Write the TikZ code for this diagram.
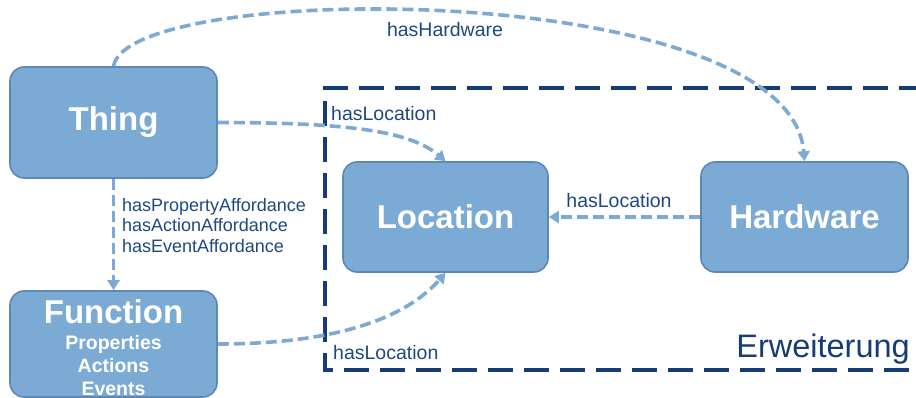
\documentclass[tikz,border=0pt]{standalone}
\usepackage{fontspec}
\setmainfont{Liberation Sans}
\usetikzlibrary{arrows.meta}
\definecolor{boxfill}{RGB}{123,171,212}
\definecolor{boxline}{RGB}{92,137,180}
\definecolor{linkblue}{RGB}{125,170,210}
\definecolor{navy}{RGB}{22,60,120}
\definecolor{labelblue}{RGB}{30,72,128}
\tikzset{
  box/.style={draw=boxline, line width=1.6pt, fill=boxfill, rounded corners=14pt,
    text=white, font=\fontsize{33}{36}\selectfont\bfseries, inner sep=0pt},
  link/.style={draw=linkblue, line width=3.6pt, dash pattern=on 11pt off 5pt,
    -{Triangle[length=10pt,width=12pt]}},
  rel/.style={text=labelblue, font=\fontsize{19.5}{22}\selectfont, inner sep=0pt},
  frame/.style={draw=navy, line width=3.2pt, dash pattern=on 25pt off 11pt},
}
\begin{document}
\begin{tikzpicture}[x=1pt,y=-1pt]
\useasboundingbox (0,0) rectangle (916,398);

% extension area, open to the right
\draw[frame] (960,88) -- (325,88) -- (325,370) -- (960,370);

% classes
\node[box, minimum width=207pt, minimum height=111pt] (thing) at (113.5,122.5) {Thing};
\node[box, minimum width=207pt, minimum height=106pt] (func) at (113.5,344) {};
\node[text=white, font=\fontsize{33}{36}\selectfont\bfseries, inner sep=0pt] (functitle) at (113.5,312) {Function};
\node[text=white, font=\fontsize{19.5}{23}\selectfont\bfseries, align=center, inner sep=0pt, anchor=north] (funcitems) at (113.5,335) {Properties\\Actions\\Events};
\node[box, minimum width=205pt, minimum height=110pt] (loc) at (445.5,217) {Location};
\node[box, minimum width=207pt, minimum height=110pt] (hw) at (804.5,217) {Hardware};

% relations
\draw[link] (thing.north) .. controls +(15,-87) and +(-15,-182) .. (hw.north);
\draw[link] (thing.east) .. controls +(130,0) and +(-35,-30) .. (loc.north);
\draw[link] (thing.south) -- (func.north);
\draw[link] (func.east) .. controls +(130,0) and +(-35,40) .. (loc.south);
\draw[link] (hw.west) -- (loc.east);

% relation labels
\node[rel] (lhw) at (445,30) {hasHardware};
\node[rel, anchor=west] (lloc1) at (331,114) {hasLocation};
\node[rel, anchor=west] (lloc2) at (333,353) {hasLocation};
\node[rel] (lloc3) at (619,201) {hasLocation};
\node[rel, anchor=north west, align=left, font=\fontsize{18}{20.5}\selectfont] (laff) at (122,198) {hasPropertyAffordance\\hasActionAffordance\\hasEventAffordance};
\node[text=navy, font=\fontsize{32.5}{35}\selectfont, anchor=east, inner sep=0pt] (ext) at (910,349) {Erweiterung};
\end{tikzpicture}
\end{document}
